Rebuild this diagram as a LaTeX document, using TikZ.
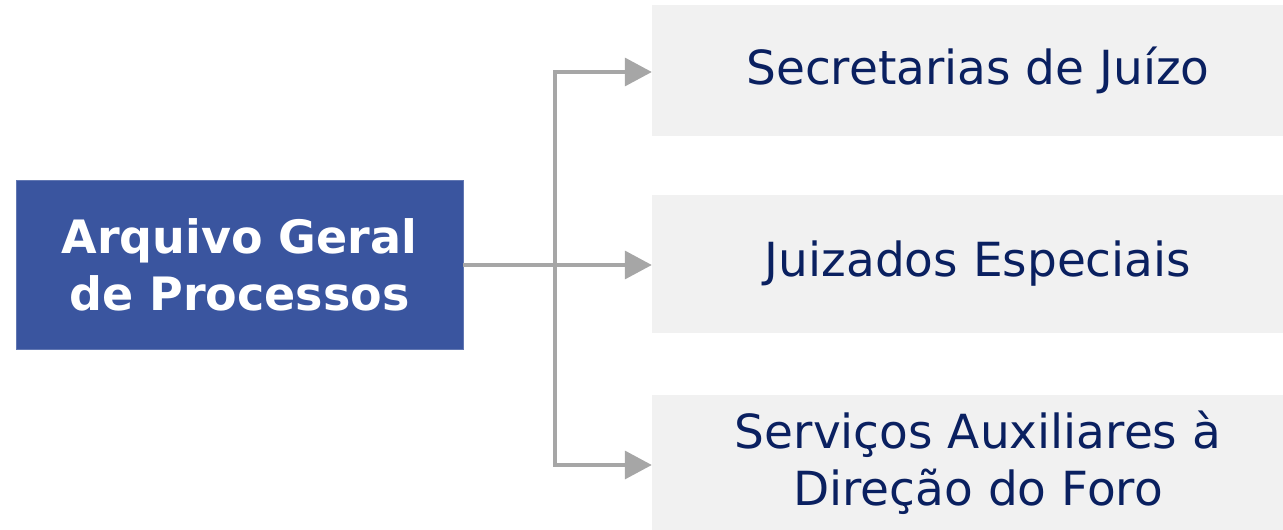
\documentclass[tikz,border=0pt]{standalone}
\usepackage{fontspec}
\setmainfont{DejaVu Sans}
\usetikzlibrary{arrows.meta}
\definecolor{srcblue}{HTML}{3A559F}
\definecolor{boxgray}{HTML}{F1F1F1}
\definecolor{navy}{HTML}{0A2060}
\definecolor{linkgray}{HTML}{A6A6A6}
\tikzset{
  srcbox/.style={rectangle, fill=srcblue, draw=srcblue!80!white, line width=0.8pt,
    minimum width=447pt, minimum height=169pt, inner sep=0pt,
    text=white, align=center, font=\fontsize{46}{57}\selectfont\bfseries},
  destbox/.style={rectangle, fill=boxgray, draw=none, minimum width=652pt,
    inner sep=0pt, text=navy, align=center, font=\fontsize{47}{57}\selectfont},
  link/.style={draw=linkgray, line width=3.6pt,
    -{Triangle[length=27pt,width=28pt]}}
}
\begin{document}
\begin{tikzpicture}[x=1pt,y=-1pt]
  \useasboundingbox (0,0) rectangle (1283,530);
  % source box
  \node[srcbox] (src) at (239.5,264.5) {Arquivo Geral\\de Processos};
  % destination boxes
  \node[destbox, minimum height=131pt] (t1) at (978,70.5) {Secretarias de Juízo};
  \node[destbox, minimum height=138pt] (t2) at (978,264) {Juizados Especiais};
  \node[destbox, minimum height=135pt] (t3) at (978,462.5) {Serviços Auxiliares à\\Direção do Foro};
  % branching connector
  \coordinate (fork) at (555,265);
  \draw[link] (src.east |- fork) -- (t2.west |- fork);
  \draw[link] (fork) |- (t1.west |- 0,72);
  \draw[link] (fork) |- (t3.west |- 0,465);
\end{tikzpicture}
\end{document}
